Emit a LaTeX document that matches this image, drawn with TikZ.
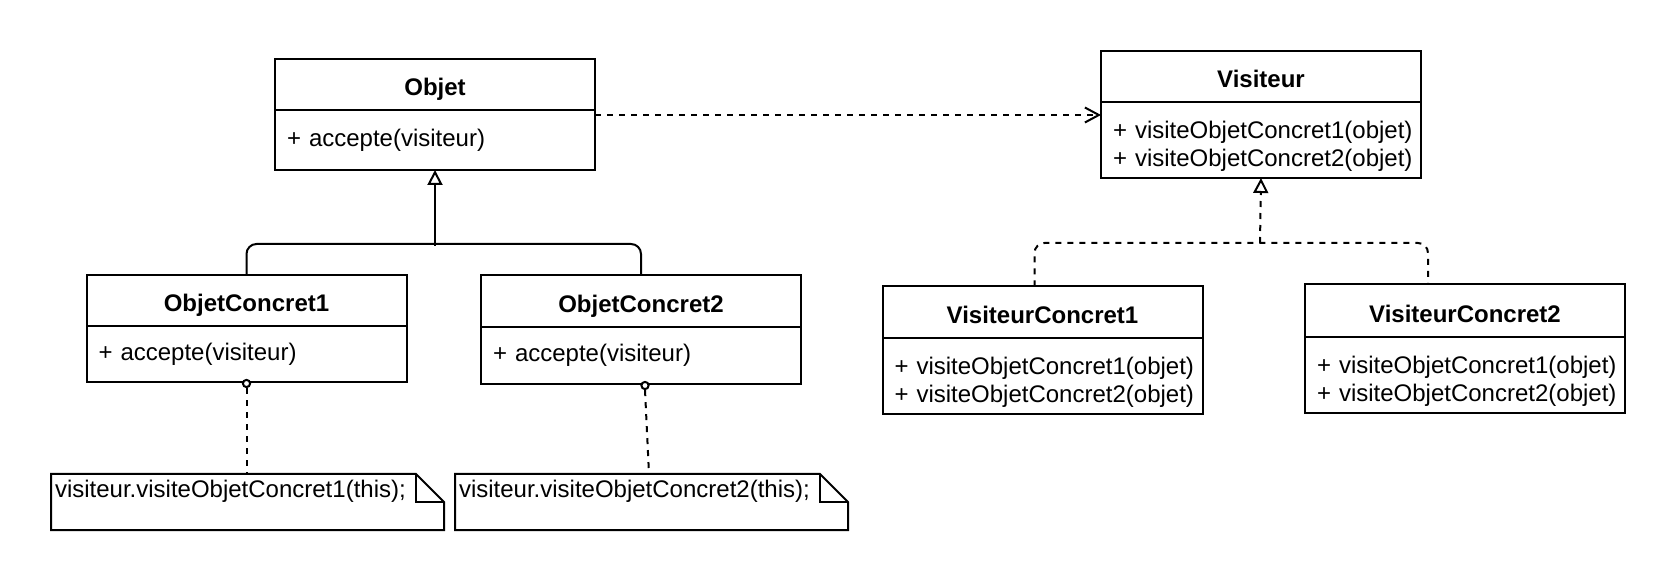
\documentclass[tikz,border=0pt]{standalone}
\usepackage{fontspec}
\setmainfont{Liberation Sans}
\usetikzlibrary{arrows.meta}
\newcommand\dfont{\fontsize{12pt}{13.9pt}\selectfont}
\newcommand\mline[1]{\mbox{#1}}
\begin{document}
\begin{tikzpicture}[x=0.5pt,y=-0.5pt,line width=1pt,
  every node/.style={font=\dfont},
  hdr/.style={draw, anchor=north west, minimum width=160pt, inner sep=0pt, outer sep=0pt, font=\dfont\bfseries, text height=11.4pt, text depth=0pt},
  bodyb/.style={draw, anchor=north west, text width=148pt, inner xsep=6pt, inner ysep=0pt, outer sep=0pt, align=left},
  twoline/.style={text height=14.8pt, text depth=16.4pt},
  notebox/.style={anchor=north west, minimum width=196.5pt, minimum height=28pt, inner sep=0pt, outer sep=0pt},
  notetext/.style={anchor=base west, inner sep=0pt},
  circ/.style={circle, draw, fill=white, minimum size=3.6pt, inner sep=0pt},
  dashedline/.style={dash pattern=on 3pt off 3pt},
  inherit/.style={-{Triangle[open,length=7.5pt,width=7.5pt]}},
  depend/.style={dashedline,-{Straight Barb[length=7pt,width=7.5pt]}},
  tree/.style={rounded corners=5pt}
]
\useasboundingbox (0,0) rectangle (1676,582);

% Objet
\node[hdr, minimum height=25.5pt] (objh) at (275,59) {Objet};
\node[bodyb, minimum height=30pt] (objb) at (objh.south west) {\mline{+ accepte(visiteur)}};

% Visiteur
\node[hdr, minimum height=25.5pt] (vish) at (1101,51) {Visiteur};
\node[bodyb, twoline, minimum height=38pt] (visb) at (vish.south west) {\mline{+ visiteObjetConcret1(objet)}\\\mline{+ visiteObjetConcret2(objet)}};

% ObjetConcret1
\node[hdr, minimum height=25.5pt] (oc1h) at (86.5,275) {ObjetConcret1};
\node[bodyb, minimum height=28.25pt] (oc1b) at (oc1h.south west) {\mline{+ accepte(visiteur)}};

% ObjetConcret2
\node[hdr, minimum height=26pt] (oc2h) at (481,275) {ObjetConcret2};
\node[bodyb, minimum height=28.75pt] (oc2b) at (oc2h.south west) {\mline{+ accepte(visiteur)}};

% VisiteurConcret1
\node[hdr, minimum height=26pt] (vc1h) at (882.5,286.5) {VisiteurConcret1};
\node[bodyb, twoline, minimum height=37.7pt] (vc1b) at (vc1h.south west) {\mline{+ visiteObjetConcret1(objet)}\\\mline{+ visiteObjetConcret2(objet)}};

% VisiteurConcret2
\node[hdr, minimum height=26.25pt] (vc2h) at (1305,284.5) {VisiteurConcret2};
\node[bodyb, twoline, minimum height=37.85pt] (vc2b) at (vc2h.south west) {\mline{+ visiteObjetConcret1(objet)}\\\mline{+ visiteObjetConcret2(objet)}};

% Notes
\node[notebox] (n1) at (51,474) {};
\node[notebox] (n2) at (455,474) {};
\foreach \n in {n1,n2}{
  \draw (\n.north west) -- ([xshift=-14pt]\n.north east) -- ([yshift=-14pt]\n.north east)
        -- (\n.south east) -- (\n.south west) -- cycle;
  \draw ([xshift=-14pt]\n.north east) -- ([xshift=-14pt,yshift=-14pt]\n.north east)
        -- ([yshift=-14pt]\n.north east);
}
\node[notetext] (n1t) at ([xshift=1.5pt,yshift=-11.85pt]n1.north west) {visiteur.visiteObjetConcret1(this);};
\node[notetext] (n2t) at ([xshift=1.5pt,yshift=-11.85pt]n2.north west) {visiteur.visiteObjetConcret2(this);};

% Junctions
\coordinate (j1) at (435,244);
\coordinate (j2) at (1260,243);

% Inheritance Objet
\draw[tree] (oc1h.north) |- (j1) -| (oc2h.north);
\draw[inherit] ([yshift=-1pt]j1) -- (objb.south);

% Realization Visiteur
\draw[tree,dashedline] ([xshift=-4pt]vc1h.north) |- (j2) -| ([xshift=-18.5pt]vc2h.north);
\draw[inherit,dashedline] (j2) -- (visb.south);

% Dependency
\draw[depend] ([yshift=-2.5pt]objb.north east) -- ([yshift=-2.5pt]objb.north east -| visb.west);

% Note anchors
\node[circ] (c1) at ([yshift=-0.5pt]oc1b.south) {};
\node[circ] (c2) at ([xshift=2pt,yshift=-0.5pt]oc2b.south) {};
\draw[dashedline] (c1.south) -- (c1.south |- n1.north);
\draw[dashedline] (c2.south) -- ([xshift=-1.25pt]n2.north);
\end{tikzpicture}
\end{document}
